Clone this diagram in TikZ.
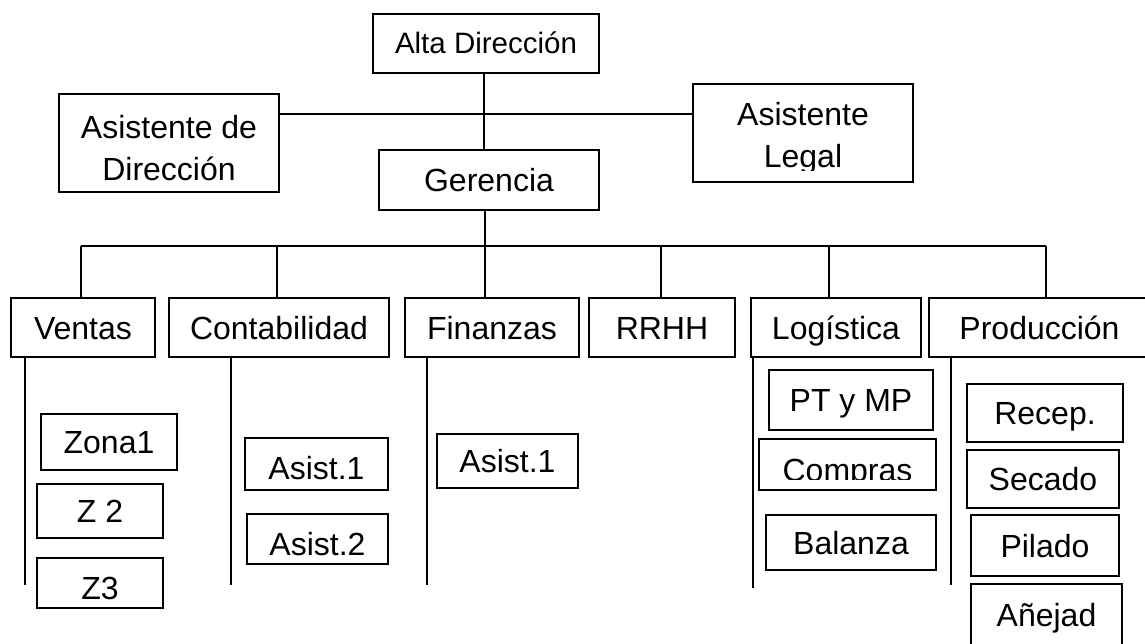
\documentclass[tikz,border=0pt]{standalone}
\usepackage{fontspec}
\setmainfont{Liberation Sans}
\begin{document}
\begin{tikzpicture}[x=1pt,y=-1pt,
  box/.style={draw, line width=1.8pt, inner sep=0pt, font=\fontsize{32}{42}\selectfont, text height=23pt, text depth=0pt},
  bare/.style={inner sep=0pt, font=\fontsize{32}{42}\selectfont, align=center},
  conn/.style={line width=1.4pt}]
\useasboundingbox (0,0) rectangle (1145,644);

% top levels
\node[box, font=\fontsize{29.5}{35}\selectfont, text height=21pt, minimum width=226pt, minimum height=59pt] (alta) at (486,43.5) {Alta Dirección};
\node[box, minimum width=220pt, minimum height=98pt] (asd) at (169,143) {};
\node[bare] (asdtxt) at (169,148.5) {Asistente de\\Dirección};
\node[box, minimum width=220pt, minimum height=98pt] (asl) at (803,133) {};
\begin{scope}
  \clip (asl.north west) rectangle ([yshift=12pt]asl.south east);
  \node[bare] (asltxt) at (803,138.3) {Asistente\\Legal};
\end{scope}
\node[box, minimum width=220pt, minimum height=60pt] (ger) at (489,180) {Gerencia};

% departments
\node[box, minimum width=144pt, minimum height=59pt] (ventas) at (83,327.5) {Ventas};
\node[box, minimum width=220pt, minimum height=59pt] (conta) at (279,327.5) {Contabilidad};
\node[box, minimum width=174pt, minimum height=59pt] (fin) at (492,327.5) {Finanzas};
\node[box, minimum width=146pt, minimum height=59pt] (rrhh) at (662,327.5) {RRHH};
\node[box, minimum width=170pt, minimum height=59pt] (log) at (836,327.5) {Logística};
\node[box, minimum width=221pt, minimum height=59pt] (prod) at (1039.5,327.5) {Producción};

% sub units
\node[box, minimum width=136pt, minimum height=56pt] (zona1) at (109,442) {Zona1};
\node[box, minimum width=126pt, minimum height=54pt] (z2) at (100,511) {Z 2};
\node[box, text height=32pt, minimum width=126pt, minimum height=50pt] (z3) at (100,583) {Z3};
\node[box, text height=31pt, minimum width=143pt, minimum height=52pt] (ca1) at (316.5,464) {Asist.1};
\node[box, text height=32pt, minimum width=141pt, minimum height=50pt] (ca2) at (317.5,539) {Asist.2};
\node[box, minimum width=141pt, minimum height=54pt] (fa1) at (507.5,461) {Asist.1};
\node[box, minimum width=164pt, minimum height=60pt] (pt) at (851,400) {PT y MP};
\node[box, minimum width=177pt, minimum height=51pt] (compras) at (847.5,464.5) {};
\begin{scope}
  \clip (compras.north west) rectangle ([yshift=11pt]compras.south east);
  \node[bare, text height=23pt, text depth=0pt] (comprastxt) at (847.5,469.5) {Compras};
\end{scope}
\node[box, minimum width=170pt, minimum height=55pt] (balanza) at (851,542.5) {Balanza};
\node[box, minimum width=156pt, minimum height=58pt] (recep) at (1045,413) {Recep.};
\node[box, minimum width=152pt, minimum height=58pt] (secado) at (1043,479) {Secado};
\node[box, minimum width=148pt, minimum height=61pt] (pilado) at (1045,545.5) {Pilado};
\node[box, minimum width=151pt, minimum height=62pt] (anejad) at (1046.5,615) {Añejad};

% connectors
\coordinate (va) at (484,0);
\draw[conn] (alta.south -| va) -- (ger.north -| va);
\coordinate (hl) at (0,114);
\draw[conn] (asd.east |- hl) -- (asl.west |- hl);
\coordinate (vg) at (485,0);
\draw[conn] (ger.south -| vg) -- (fin.north -| vg);
\coordinate (busL) at (81,246);
\coordinate (busR) at (1046,246);
\draw[conn] (busL) -- (busR);
\draw[conn] (busL) -- (busL |- ventas.north);
\coordinate (b2) at (277,246);
\draw[conn] (b2) -- (b2 |- conta.north);
\coordinate (b4) at (661,246);
\draw[conn] (b4) -- (b4 |- rrhh.north);
\coordinate (b5) at (829,246);
\draw[conn] (b5) -- (b5 |- log.north);
\draw[conn] (busR) -- (busR |- prod.north);

\coordinate (e1) at (25,585);
\draw[conn] (ventas.south -| e1) -- (e1);
\coordinate (e2) at (231,585);
\draw[conn] (conta.south -| e2) -- (e2);
\coordinate (e3) at (427,585);
\draw[conn] (fin.south -| e3) -- (e3);
\coordinate (e5) at (753,588);
\draw[conn] (log.south -| e5) -- (e5);
\coordinate (e6) at (951,585);
\draw[conn] (prod.south -| e6) -- (e6);
\end{tikzpicture}
\end{document}
